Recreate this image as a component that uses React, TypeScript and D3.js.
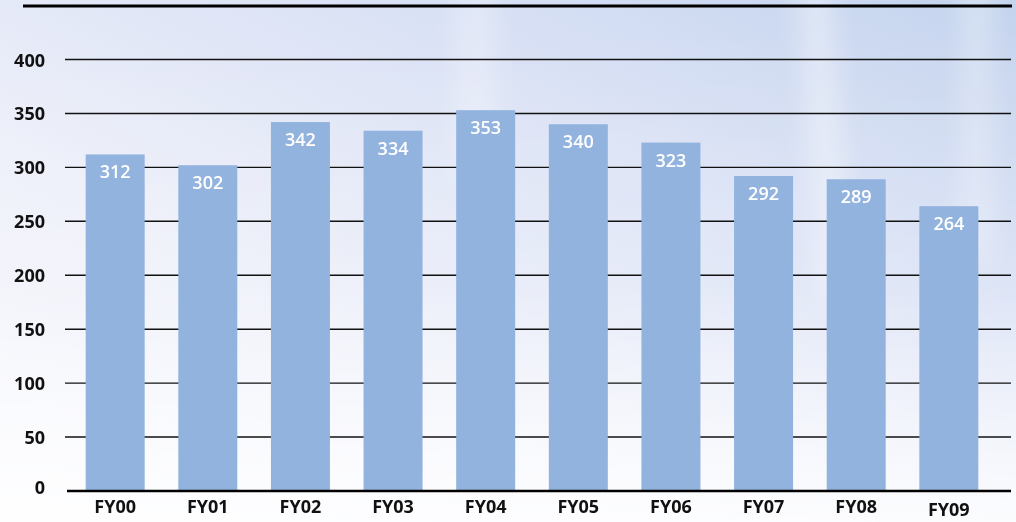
import React from 'react';
import * as d3 from 'd3';

const categories = ['FY00', 'FY01', 'FY02', 'FY03', 'FY04', 'FY05', 'FY06', 'FY07', 'FY08', 'FY09'];
const values = [312, 302, 342, 334, 353, 340, 323, 292, 289, 264];
const yTicks = [0, 50, 100, 150, 200, 250, 300, 350, 400];

const W = 1016;
const H = 522;
const FONT = '"Open Sans", "Noto Sans", sans-serif';

const App: React.FC = () => {
  const x = d3.scaleBand<string>()
    .domain(categories)
    .range([69, 995])
    .paddingInner(0.363)
    .paddingOuter(0.18);

  const y = d3.scaleLinear().domain([0, 400]).range([491, 59.5]);

  return (
    <div>
      <style>{`body { margin: 0; }`}</style>
      <svg width={W} height={H} style={{ display: 'block' }}>
        <defs>
          <linearGradient id="bg" x1="0" y1="1" x2="1" y2="0">
            <stop offset="0" stopColor="#f8f9fd" />
            <stop offset="0.35" stopColor="#eef0fa" />
            <stop offset="0.7" stopColor="#d9e1f5" />
            <stop offset="1" stopColor="#c4d4ee" />
          </linearGradient>
          <linearGradient id="fade" x1="0" y1="0" x2="0" y2="1">
            <stop offset="0" stopColor="#ffffff" stopOpacity="0" />
            <stop offset="0.55" stopColor="#ffffff" stopOpacity="0.15" />
            <stop offset="1" stopColor="#ffffff" stopOpacity="0.85" />
          </linearGradient>
          <filter id="soft" x="-50%" y="-50%" width="200%" height="200%">
            <feGaussianBlur stdDeviation="14" />
          </filter>
        </defs>
        <rect x={0} y={0} width={W} height={H} fill="url(#bg)" />
        <g filter="url(#soft)" fill="#ffffff">
          <rect x={800} y={-20} width={30} height={320} opacity={0.45} transform="rotate(-4 815 0)" />
          <rect x={965} y={-20} width={22} height={280} opacity={0.4} />
          <rect x={455} y={-20} width={40} height={200} opacity={0.3} />
        </g>
        <rect x={0} y={0} width={W} height={H} fill="url(#fade)" />

        {/* top rule */}
        <line x1={23} x2={1012} y1={6} y2={6} stroke="#000" strokeWidth={3} />

        {/* gridlines */}
        {yTicks.filter(t => t > 0).map(t => (
          <line key={t} x1={65} x2={1011} y1={y(t)} y2={y(t)} stroke="#111" strokeWidth={1.4} />
        ))}

        {/* y tick labels */}
        {yTicks.map(t => (
          <text
            key={t}
            x={45}
            y={y(t) - (t === 0 ? 4 : 0)}
            textAnchor="end"
            dominantBaseline="central"
            fontFamily={FONT}
            fontWeight={700}
            fontSize={18}
            fill="#111"
          >
            {t}
          </text>
        ))}

        {/* bars */}
        {categories.map((c, i) => (
          <rect
            key={c}
            x={x(c)}
            y={y(values[i])}
            width={x.bandwidth()}
            height={y(0) - y(values[i])}
            fill="#93b3df"
          />
        ))}

        {/* value labels */}
        {categories.map((c, i) => (
          <text
            key={c}
            x={(x(c) ?? 0) + x.bandwidth() / 2}
            y={y(values[i]) + 24}
            textAnchor="middle"
            fontFamily={FONT}
            fontWeight={600}
            fontSize={18}
            fill="#fff"
          >
            {values[i]}
          </text>
        ))}

        {/* baseline axis */}
        <line x1={67} x2={1011} y1={y(0)} y2={y(0)} stroke="#000" strokeWidth={2.5} />

        {/* x labels */}
        {categories.map(c => (
          <text
            key={c}
            x={(x(c) ?? 0) + x.bandwidth() / 2}
            y={c === 'FY09' ? 516 : 513}
            textAnchor="middle"
            fontFamily={FONT}
            fontWeight={700}
            fontSize={18}
            fill="#111"
          >
            {c}
          </text>
        ))}
      </svg>
    </div>
  );
};

export default App;
